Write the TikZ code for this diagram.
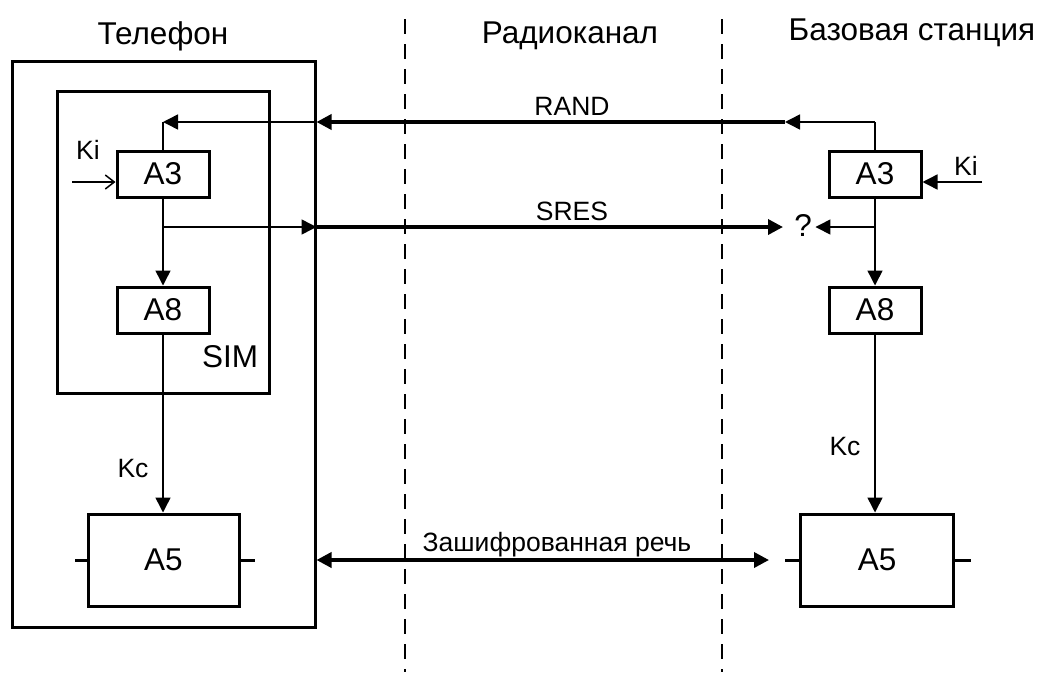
\documentclass[tikz,border=0pt]{standalone}
\usepackage{fontspec}
\setmainfont{Liberation Sans}
\usetikzlibrary{arrows.meta}
\newcommand\fbig{\fontsize{31.5}{37}\selectfont}
\newcommand\fsmall{\fontsize{26.5}{31}\selectfont}
\tikzset{
  tri/.tip={Triangle[length=15pt,width=15pt]},
  barb/.tip={Straight Barb[length=9pt,width=14pt]},
  container/.style={draw,line width=3pt,inner sep=0pt},
  box/.style={draw,line width=3pt,inner sep=0pt,minimum width=92pt,minimum height=46pt,font=\fbig},
  thinc/.style={line width=1.5pt},
  thickc/.style={line width=3.5pt},
  stub/.style={line width=3pt},
  divider/.style={line width=1.5pt,dash pattern=on 14.5pt off 10.5pt},
  hdr/.style={font=\fbig,anchor=base,inner sep=0pt},
  lbl/.style={font=\fsmall,anchor=base,inner sep=0pt},
}
\begin{document}
\begin{tikzpicture}[x=1pt,y=-1pt]
\useasboundingbox (0,0) rectangle (1040,672);
% dividers
\coordinate (d1t) at (405,19); \coordinate (d1b) at (405,672);
\coordinate (d2t) at (722,19); \coordinate (d2b) at (722,672);
\draw[divider] (d1t) -- (d1b);
\draw[divider] (d2t) -- (d2b);
% headers
\node[hdr] (hPhone) at (163,44) {Телефон};
\node[hdr] (hRadio) at (570,43) {Радиоканал};
\node[hdr] (hBase) at (912,40) {Базовая станция};
% containers and boxes
\node[container,minimum width=303pt,minimum height=566pt] (phone) at (163.5,344) {};
\node[container,minimum width=212pt,minimum height=302pt] (sim) at (163,242) {};
\node[box] (a3L) at (163,174) {A3};
\node[box] (a8L) at (163,310) {A8};
\node[box,minimum width=151pt,minimum height=92pt] (a5L) at (163.5,560) {A5};
\node[box] (a3R) at (875,174) {A3};
\node[box] (a8R) at (875,310) {A8};
\node[box,minimum width=153pt,minimum height=92pt] (a5R) at (877,560) {A5};
\node[hdr] (lSim) at (230,367) {SIM};
% labels
\node[lbl] (lRand) at (572,115) {RAND};
\node[lbl] (lSres) at (572,220) {SRES};
\node[lbl] (lSpeech) at (557,551) {Зашифрованная речь};
\node[lbl] (lKiL) at (88,159) {Ki};
\node[lbl] (lKiR) at (966,175) {Ki};
\node[lbl] (lKcL) at (133,477) {Kc};
\node[lbl] (lKcR) at (845,455) {Kc};
\node[font=\fbig,inner ysep=0pt,inner xsep=3.5pt] (q) at (803,225) {?};
% coordinates
\coordinate (cL) at (163,122);
\coordinate (cR) at (875,122);
\coordinate (randEnd) at (785,122);
\coordinate (jL) at (163,227);
\coordinate (jR) at (875,227);
\coordinate (sresEnd) at (783,227);
\coordinate (kiL) at (72,182);
\coordinate (kiR) at (982,182);
\coordinate (speechEnd) at (769,560);
\coordinate (sL1) at (75,560);
\coordinate (sL2) at (255,560);
\coordinate (sR1) at (785,560);
\coordinate (sR2) at (971,560);
% RAND
\draw[thinc] (a3R.north) -- (cR);
\draw[thinc,-tri] (cR) -- (randEnd);
\draw[thickc,-tri] (randEnd) -- (phone.east |- cR);
\draw[thinc,-tri] (phone.east |- cR) -- (cL);
\draw[thinc] (cL) -- (a3L.north);
% SRES
\draw[thinc,-tri] (jL) -- (phone.east |- jL);
\draw[thickc,-tri] (phone.east |- jL) -- (sresEnd);
\draw[thinc,-tri] (jR) -- (q.east |- jR);
% vertical flows
\draw[thinc,-tri] (a3L.south) -- (a8L.north);
\draw[thinc,-tri] (a8L.south) -- (a8L.south |- a5L.north);
\draw[thinc,-tri] (a3R.south) -- (a8R.north);
\draw[thinc,-tri] (a8R.south) -- (a8R.south |- a5R.north);
% Ki inputs
\draw[thinc,-barb] (kiL) -- (a3L.west |- kiL);
\draw[thinc,-tri] (kiR) -- (a3R.east |- kiR);
% encrypted speech
\draw[thickc,tri-tri] (phone.east |- a5L) -- (speechEnd);
% A5 stubs
\draw[stub] (sL1) -- (a5L.west);
\draw[stub] (a5L.east) -- (sL2);
\draw[stub] (sR1) -- (a5R.west);
\draw[stub] (a5R.east) -- (sR2);
\end{tikzpicture}
\end{document}
